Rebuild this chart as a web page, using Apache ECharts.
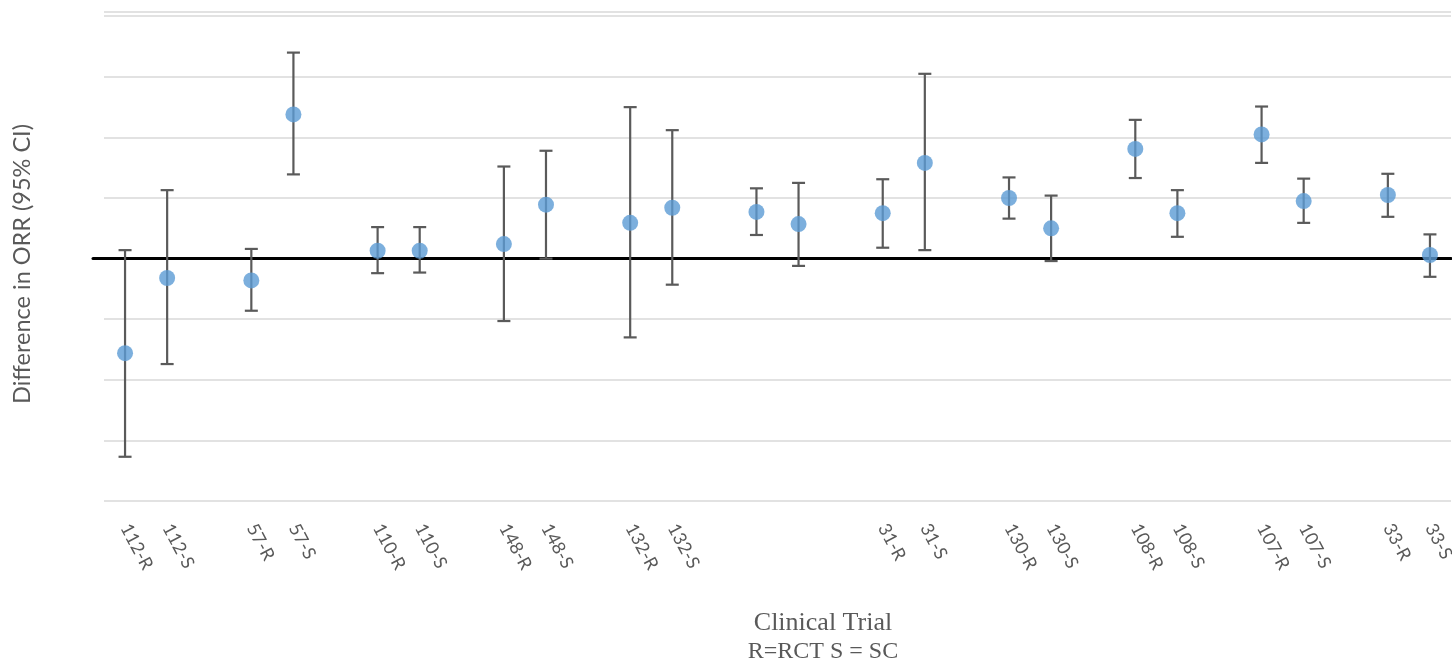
<!DOCTYPE html>
<html>
<head>
<meta charset="utf-8">
<script src="https://cdn.jsdelivr.net/npm/echarts@6/dist/echarts.min.js"></script>
<style>
  html, body { margin: 0; padding: 0; background: #fff; }
  #chart { width: 1452px; height: 663px; }
</style>
</head>
<body>
<div id="chart"></div>
<script>
// Categories (empty strings are spacer slots between trial pairs)
const categories = [
  '112-R', '112-S', '', '57-R', '57-S', '', '110-R', '110-S', '',
  '148-R', '148-S', '', '132-R', '132-S', '', ' ', '  ', '',
  '31-R', '31-S', '', '130-R', '130-S', '', '108-R', '108-S', '',
  '107-R', '107-S', '', '33-R', '33-S'
];
// Difference in ORR (percentage points), null = spacer
const diffORR = [
  -15.6, -3.2, null, -3.6, 23.8, null, 1.3, 1.3, null,
  2.4, 8.9, null, 5.9, 8.4, null, 7.7, 5.7, null,
  7.5, 15.8, null, 10.0, 5.0, null, 18.1, 7.5, null,
  20.5, 9.5, null, 10.5, 0.6
];
const ciLower = [
  -32.7, -17.4, null, -8.6, 13.9, null, -2.4, -2.3, null,
  -10.3, 0.0, null, -13.0, -4.3, null, 3.9, -1.2, null,
  1.8, 1.4, null, 6.6, -0.4, null, 13.3, 3.6, null,
  15.8, 5.9, null, 6.9, -3.0
];
const ciUpper = [
  1.4, 11.3, null, 1.6, 34.0, null, 5.2, 5.2, null,
  15.2, 17.8, null, 25.0, 21.2, null, 11.6, 12.5, null,
  13.1, 30.5, null, 13.4, 10.4, null, 22.9, 11.3, null,
  25.1, 13.2, null, 14.0, 4.0
];

const pointData = diffORR.map((v, i) => (v === null ? [i, '-'] : [i, v]));
const ciData = [];
ciLower.forEach((lo, i) => { if (lo !== null) ciData.push([i, lo, ciUpper[i]]); });

const Y_MIN = -40, Y_MAX = 40.7;

const chart = echarts.init(document.getElementById('chart'), null, { renderer: 'canvas' });
chart.setOption({
  animation: false,
  backgroundColor: '#ffffff',
  grid: [
    { left: 104, right: 1, top: 12, bottom: 162, containLabel: false, outerBoundsMode: 'none' },
    { left: 93, right: 1, top: 12, bottom: 162, containLabel: false, outerBoundsMode: 'none' }
  ],
  xAxis: [
    {
      type: 'category',
      gridIndex: 0,
      data: categories,
      boundaryGap: true,
      axisLine: { show: false },
      axisTick: { show: false },
      splitLine: { show: false },
      axisLabel: {
        interval: 0,
        rotate: -62,
        margin: 24,
        color: '#595959',
        fontSize: 18,
        fontFamily: 'Lato, "Open Sans", sans-serif'
      }
    },
    {
      // horizontal zero axis line (crosses at 0)
      type: 'value',
      gridIndex: 1,
      min: 0, max: 1,
      axisLine: { show: true, onZero: true, lineStyle: { color: '#000000', width: 3 } },
      axisTick: { show: false },
      axisLabel: { show: false },
      splitLine: { show: false }
    }
  ],
  yAxis: [
    {
      type: 'value',
      gridIndex: 0,
      min: Y_MIN,
      max: Y_MAX,
      interval: 10,
      axisLine: { show: false },
      axisTick: { show: false },
      axisLabel: { show: false },
      splitLine: { show: true, lineStyle: { color: '#d9d9d9', width: 1.5 } }
    },
    {
      type: 'value',
      gridIndex: 1,
      min: Y_MIN,
      max: Y_MAX,
      interval: 10,
      axisLine: { show: false },
      axisTick: { show: false },
      axisLabel: { show: false },
      splitLine: { show: false }
    }
  ],
  graphic: [
    {
      type: 'text',
      x: 22, y: 264,
      rotation: Math.PI / 2,
      style: {
        text: 'Difference in ORR (95% CI)',
        align: 'center', verticalAlign: 'middle',
        fill: '#595959',
        font: '23.5px Lato, "Open Sans", sans-serif'
      }
    },
    {
      type: 'text',
      x: 823, y: 623,
      style: {
        text: 'Clinical Trial',
        align: 'center', verticalAlign: 'middle',
        fill: '#595959',
        font: '26px "Liberation Serif", "Times New Roman", serif'
      }
    },
    {
      type: 'text',
      x: 823, y: 652,
      style: {
        text: 'R=RCT S = SC',
        align: 'center', verticalAlign: 'middle',
        fill: '#595959',
        font: '24px "Liberation Serif", "Times New Roman", serif'
      }
    }
  ],
  series: [
    {
      type: 'custom',
      name: '95% CI',
      xAxisIndex: 0, yAxisIndex: 0,
      z: 3,
      data: ciData,
      renderItem: function (params, api) {
        const x = api.value(0);
        const lo = api.coord([x, api.value(1)]);
        const hi = api.coord([x, api.value(2)]);
        const hw = 6.5;
        const style = { stroke: '#5a5a5a', lineWidth: 2.2, fill: null };
        return {
          type: 'group',
          children: [
            { type: 'line', shape: { x1: lo[0], y1: lo[1], x2: hi[0], y2: hi[1] }, style: style },
            { type: 'line', shape: { x1: lo[0] - hw, y1: lo[1], x2: lo[0] + hw, y2: lo[1] }, style: style },
            { type: 'line', shape: { x1: hi[0] - hw, y1: hi[1], x2: hi[0] + hw, y2: hi[1] }, style: style }
          ]
        };
      }
    },
    {
      type: 'scatter',
      name: 'Difference in ORR',
      xAxisIndex: 0, yAxisIndex: 0,
      z: 5,
      data: pointData,
      symbol: 'circle',
      symbolSize: 16,
      itemStyle: { color: '#5b9bd5' }
    }
  ]
});
</script>
</body>
</html>
